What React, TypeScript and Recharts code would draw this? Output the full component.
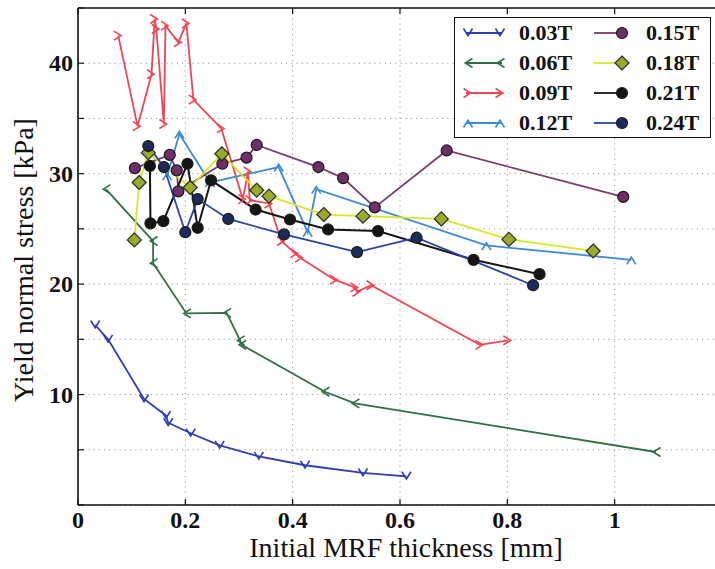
import React from 'react';
import { LineChart, Line, XAxis, YAxis, CartesianGrid, ReferenceLine, Label } from 'recharts';

// ---- data (x: initial MRF thickness [mm], y: yield normal stress [kPa]) ----
const s003 = [
  { x: 0.032, y: 16.3 }, { x: 0.056, y: 15.0 }, { x: 0.123, y: 9.6 }, { x: 0.164, y: 8.1 },
  { x: 0.168, y: 7.45 }, { x: 0.21, y: 6.5 }, { x: 0.264, y: 5.4 }, { x: 0.337, y: 4.4 },
  { x: 0.423, y: 3.6 }, { x: 0.531, y: 2.9 }, { x: 0.612, y: 2.6 },
];
const s006 = [
  { x: 0.052, y: 28.6 }, { x: 0.14, y: 23.9 }, { x: 0.14, y: 21.9 }, { x: 0.202, y: 17.35 },
  { x: 0.277, y: 17.4 }, { x: 0.302, y: 14.9 }, { x: 0.305, y: 14.5 }, { x: 0.46, y: 10.25 },
  { x: 0.516, y: 9.2 }, { x: 1.077, y: 4.8 },
];
const s009 = [
  { x: 0.075, y: 42.5 }, { x: 0.111, y: 34.3 }, { x: 0.137, y: 39.0 }, { x: 0.143, y: 44.0 },
  { x: 0.146, y: 43.1 }, { x: 0.16, y: 34.5 }, { x: 0.163, y: 43.4 }, { x: 0.187, y: 41.9 },
  { x: 0.202, y: 43.6 }, { x: 0.215, y: 36.7 }, { x: 0.267, y: 34.1 }, { x: 0.307, y: 27.7 },
  { x: 0.317, y: 30.2 }, { x: 0.32, y: 27.6 }, { x: 0.356, y: 27.3 }, { x: 0.379, y: 23.9 },
  { x: 0.404, y: 22.8 }, { x: 0.413, y: 22.4 }, { x: 0.478, y: 20.4 }, { x: 0.516, y: 19.7 },
  { x: 0.52, y: 19.3 }, { x: 0.546, y: 19.9 }, { x: 0.749, y: 14.5 }, { x: 0.801, y: 14.9 },
];
const s012 = [
  { x: 0.166, y: 29.8 }, { x: 0.189, y: 33.6 }, { x: 0.246, y: 29.2 }, { x: 0.374, y: 30.6 },
  { x: 0.428, y: 24.7 }, { x: 0.444, y: 28.6 }, { x: 0.761, y: 23.5 }, { x: 1.031, y: 22.2 },
];
const s015 = [
  { x: 0.106, y: 30.5 }, { x: 0.171, y: 31.7 }, { x: 0.184, y: 30.3 }, { x: 0.187, y: 28.4 },
  { x: 0.269, y: 30.9 }, { x: 0.314, y: 31.45 }, { x: 0.333, y: 32.6 }, { x: 0.448, y: 30.6 },
  { x: 0.494, y: 29.6 }, { x: 0.553, y: 26.95 }, { x: 0.687, y: 32.1 }, { x: 1.016, y: 27.9 },
];
const s018 = [
  { x: 0.105, y: 24.0 }, { x: 0.114, y: 29.2 }, { x: 0.131, y: 31.9 }, { x: 0.209, y: 28.75 },
  { x: 0.268, y: 31.8 }, { x: 0.333, y: 28.5 }, { x: 0.356, y: 27.96 }, { x: 0.458, y: 26.3 },
  { x: 0.531, y: 26.15 }, { x: 0.677, y: 25.9 }, { x: 0.803, y: 24.05 }, { x: 0.96, y: 23.0 },
];
const s021 = [
  { x: 0.134, y: 30.7 }, { x: 0.135, y: 25.5 }, { x: 0.159, y: 25.7 }, { x: 0.204, y: 30.9 },
  { x: 0.223, y: 25.1 }, { x: 0.248, y: 29.4 }, { x: 0.331, y: 26.75 }, { x: 0.395, y: 25.85 },
  { x: 0.466, y: 24.95 }, { x: 0.559, y: 24.8 }, { x: 0.737, y: 22.2 }, { x: 0.86, y: 20.9 },
];
const s024 = [
  { x: 0.131, y: 32.5 }, { x: 0.16, y: 30.6 }, { x: 0.2, y: 24.7 }, { x: 0.223, y: 27.7 },
  { x: 0.28, y: 25.9 }, { x: 0.384, y: 24.5 }, { x: 0.52, y: 22.9 }, { x: 0.631, y: 24.2 },
  { x: 0.848, y: 19.9 },
];

const xTicks = [0, 0.2, 0.4, 0.6, 0.8, 1, 1.2];
const xTickLabels = ['0', '0.2', '0.4', '0.6', '0.8', '1', ''];
const yTicks = [0, 5, 10, 15, 20, 25, 30, 35, 40, 45];
const yTickLabels = ['', '', '10', '', '20', '', '30', '', '40', ''];

const legendLabels = ['0.03T', '0.06T', '0.09T', '0.12T', '0.15T', '0.18T', '0.21T', '0.24T'];

const C = {
  c003: '#2d3db0',
  c006: '#2f6f45',
  c009: '#ee4653',
  c012: '#3d89d6',
  c015: '#7a3a6e',
  c015f: '#6e2f68',
  c018: '#d9e626',
  c018f: '#9aab2c',
  c021: '#151515',
  c024: '#2a43a8',
  c024f: '#1d2a5c',
};

const SERIF = '"Liberation Serif", "Times New Roman", serif';

type Dir = 'v' | '<' | '>' | '^';
const chevronPath = (dir: Dir, x: number, y: number, s = 4.5) => {
  switch (dir) {
    case 'v': return `M${x - s},${y - s} L${x},${y + s * 0.6} L${x + s},${y - s}`;
    case '^': return `M${x - s},${y + s} L${x},${y - s * 0.6} L${x + s},${y + s}`;
    case '<': return `M${x + s},${y - s} L${x - s * 0.6},${y} L${x + s},${y + s}`;
    case '>': return `M${x - s},${y - s} L${x + s * 0.6},${y} L${x - s},${y + s}`;
  }
};

const chevronDot = (dir: Dir, color: string) => (props: any) => {
  const { cx, cy, index } = props;
  if (cx == null || cy == null) return <g key={index} />;
  return <path key={index} d={chevronPath(dir, cx, cy)} stroke={color} strokeWidth={1.6} fill="none" />;
};
const circleDot = (fill: string) => (props: any) => {
  const { cx, cy, index } = props;
  if (cx == null || cy == null) return <g key={index} />;
  return <circle key={index} cx={cx} cy={cy} r={5.5} fill={fill} stroke="#1a1a1a" strokeWidth={1.2} />;
};
const diamondDot = (fill: string) => (props: any) => {
  const { cx, cy, index } = props;
  if (cx == null || cy == null) return <g key={index} />;
  const r = 7;
  return (
    <path key={index} d={`M${cx},${cy - r} L${cx + r},${cy} L${cx},${cy + r} L${cx - r},${cy} Z`}
      fill={fill} stroke="#2a2a2a" strokeWidth={1.2} />
  );
};

const XTick = (props: any) => {
  const { x, payload } = props;
  const i = xTicks.indexOf(payload.value);
  return (
    <g>
      <line x1={x} x2={x} y1={505} y2={499} stroke="#111" strokeWidth={1.2} />
      <line x1={x} x2={x} y1={8} y2={14} stroke="#111" strokeWidth={1.2} />
      <text x={x} y={528} textAnchor="middle" fontFamily={SERIF} fontWeight="bold" fontSize={24} fill="#111">
        {i >= 0 ? xTickLabels[i] : ''}
      </text>
    </g>
  );
};
const YTick = (props: any) => {
  const { y, payload } = props;
  const i = yTicks.indexOf(payload.value);
  return (
    <g>
      <line x1={78} x2={84} y1={y} y2={y} stroke="#111" strokeWidth={1.2} />
      <text x={73} y={y + 8} textAnchor="end" fontFamily={SERIF} fontWeight="bold" fontSize={24} fill="#111">
        {i >= 0 ? yTickLabels[i] : ''}
      </text>
    </g>
  );
};

const LegendIcon = ({ kind, color, fill, dir }: { kind: string; color: string; fill?: string; dir?: Dir }) => {
  if (kind === 'chev') {
    return (
      <svg width={44} height={20} style={{ position: 'absolute', left: 0, top: 0, overflow: 'visible' }}>
        <line x1={4} x2={40} y1={10} y2={10} stroke={color} strokeWidth={1.8} />
        <path d={chevronPath(dir as Dir, 6, 10)} stroke={color} strokeWidth={1.6} fill="none" />
        <path d={chevronPath(dir as Dir, 38, 10)} stroke={color} strokeWidth={1.6} fill="none" />
      </svg>
    );
  }
  return (
    <svg width={44} height={20} style={{ position: 'absolute', left: 0, top: 0, overflow: 'visible' }}>
      <line x1={2} x2={30} y1={10} y2={10} stroke={color} strokeWidth={1.8} />
      {kind === 'circle' ? (
        <circle cx={30} cy={10} r={5.5} fill={fill} stroke="#1a1a1a" strokeWidth={1.2} />
      ) : (
        <path d="M30,3 L37,10 L30,17 L23,10 Z" fill={fill} stroke="#2a2a2a" strokeWidth={1.2} />
      )}
    </svg>
  );
};

const legendItems = [
  { kind: 'chev', color: C.c003, dir: 'v' as Dir },
  { kind: 'chev', color: C.c006, dir: '<' as Dir },
  { kind: 'chev', color: C.c009, dir: '>' as Dir },
  { kind: 'chev', color: C.c012, dir: '^' as Dir },
  { kind: 'circle', color: C.c015, fill: C.c015f },
  { kind: 'diamond', color: C.c018, fill: C.c018f },
  { kind: 'circle', color: C.c021, fill: C.c021 },
  { kind: 'circle', color: C.c024, fill: C.c024f },
];

const LegendBox = () => (
  <div
    style={{
      position: 'absolute', left: 454, top: 17, width: 257, height: 121, boxSizing: 'border-box',
      border: '1.6px solid #111', background: '#fff',
    }}
  >
    {legendItems.map((it, i) => {
      const col = Math.floor(i / 4);
      const row = i % 4;
      const left = col === 0 ? 7 : 137;
      const textLeft = col === 0 ? 64 : 191;
      const cy = 15 + row * 30;
      return (
        <React.Fragment key={i}>
          <div style={{ position: 'absolute', left, top: cy - 10, width: 44, height: 20 }}>
            <LegendIcon kind={it.kind} color={it.color} fill={(it as any).fill} dir={(it as any).dir} />
          </div>
          <div
            style={{
              position: 'absolute', left: textLeft, top: cy - 13, height: 26, lineHeight: '26px',
              fontFamily: SERIF, fontWeight: 'bold', fontSize: 22, color: '#111', whiteSpace: 'nowrap',
            }}
          >
            {legendLabels[i]}
          </div>
        </React.Fragment>
      );
    })}
  </div>
);

export default function App() {
  return (
    <div style={{ position: 'absolute', left: 0, top: 0, width: 715, height: 569, overflow: 'hidden', background: '#fff' }}>
      <LineChart width={740} height={569} margin={{ top: 8, right: 18, bottom: 0, left: 0 }}>
        <CartesianGrid stroke="#9a9a9a" strokeDasharray="1.2 4" strokeWidth={1} />
        <XAxis
          type="number"
          dataKey="x"
          domain={[0, 1.2]}
          ticks={xTicks}
          allowDataOverflow
          height={64}
          axisLine={{ stroke: '#111', strokeWidth: 1.6 }}
          tickLine={false}
          tick={<XTick />}
          interval={0}
        >
          <Label
            content={() => (
              <text x={406} y={557} textAnchor="middle" fontFamily={SERIF} fontSize={28} fill="#111">
                Initial MRF thickness [mm]
              </text>
            )}
          />
        </XAxis>
        <YAxis
          type="number"
          dataKey="y"
          domain={[0, 45]}
          ticks={yTicks}
          allowDataOverflow
          width={78}
          axisLine={{ stroke: '#111', strokeWidth: 1.6 }}
          tickLine={false}
          tick={<YTick />}
          interval={0}
        >
          <Label
            content={() => (
              <text x={33} y={260} transform="rotate(-90, 33, 260)" textAnchor="middle" fontFamily={SERIF} fontSize={28} fill="#111">
                Yield normal stress [kPa]
              </text>
            )}
          />
        </YAxis>
        <ReferenceLine y={45} stroke="#111" strokeWidth={1.6} />

        <Line data={s003} dataKey="y" stroke={C.c003} strokeWidth={1.8} dot={chevronDot('v', C.c003)} isAnimationActive={false} />
        <Line data={s006} dataKey="y" stroke={C.c006} strokeWidth={1.8} dot={chevronDot('<', C.c006)} isAnimationActive={false} />
        <Line data={s009} dataKey="y" stroke={C.c009} strokeWidth={1.8} dot={chevronDot('>', C.c009)} isAnimationActive={false} />
        <Line data={s012} dataKey="y" stroke={C.c012} strokeWidth={1.8} dot={chevronDot('^', C.c012)} isAnimationActive={false} />
        <Line data={s015} dataKey="y" stroke={C.c015} strokeWidth={1.8} dot={circleDot(C.c015f)} isAnimationActive={false} />
        <Line data={s018} dataKey="y" stroke={C.c018} strokeWidth={1.8} dot={diamondDot(C.c018f)} isAnimationActive={false} />
        <Line data={s021} dataKey="y" stroke={C.c021} strokeWidth={2} dot={circleDot(C.c021)} isAnimationActive={false} />
        <Line data={s024} dataKey="y" stroke={C.c024} strokeWidth={1.8} dot={circleDot(C.c024f)} isAnimationActive={false} />
      </LineChart>
      <LegendBox />
    </div>
  );
}
